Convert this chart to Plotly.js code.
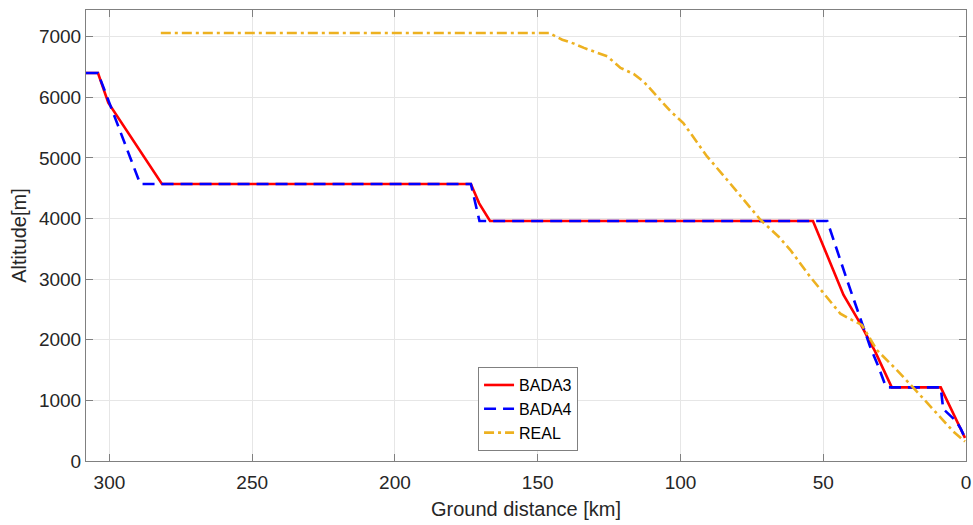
<!DOCTYPE html>
<html>
<head>
<meta charset="utf-8">
<script src="https://cdn.plot.ly/plotly-3.0.1.min.js"></script>
<style>html,body{margin:0;padding:0;background:#fff;}#chart{width:973px;height:525px;}</style>
</head>
<body>
<div id="chart"></div>
<script>
// Ground distance [km] / Altitude [m]
var bada3X = [308.2, 304.0, 300.4, 281.6, 173.4, 170.5, 166.7, 53.6, 42.9, 37.1, 31.8, 26.0, 8.85, 0.35];
var bada3Y = [6400, 6400, 5910, 4570, 4570, 4250, 3960, 3960, 2740, 2275, 1805, 1215, 1215, 380];

var bada4X = [308.2, 304.0, 289.2, 173.4, 170.4, 48.6, 41.7, 36.4, 33.6, 30.7, 28.3, 27.7, 8.85, 8.0, 3.5, 1.8, 0.35];
var bada4Y = [6400, 6400, 4570, 4570, 3960, 3960, 2990, 2280, 1890, 1560, 1255, 1215, 1215, 860, 660, 530, 380];

var realX = [282.0, 146.0, 141.4, 137.3, 133.8, 129.7, 125.6, 121.0, 116.4, 112.9, 108.2, 103.5, 99.0, 95.4, 90.7, 83.7, 77.9, 72.0, 65.6, 61.5, 54.6, 48.7, 44.0, 40.5, 36.5, 31.2, 24.2, 17.2, 10.2, 4.4, 0.35];
var realY = [7060, 7060, 6950, 6885, 6815, 6750, 6675, 6485, 6385, 6260, 6015, 5770, 5575, 5330, 5025, 4640, 4310, 3980, 3700, 3480, 3040, 2710, 2430, 2340, 2245, 1830, 1500, 1145, 790, 485, 320];

var seriesNames = ["BADA3", "BADA4", "REAL"];
var xTicks = [0, 50, 100, 150, 200, 250, 300];
var yTicks = [0, 1000, 2000, 3000, 4000, 5000, 6000, 7000];

var fontFam = "Liberation Sans, Arial, Helvetica, sans-serif";
var traces = [
  {x: bada3X, y: bada3Y, name: seriesNames[0], mode: "lines", line: {color: "#ff0000", width: 2.6}},
  {x: bada4X, y: bada4Y, name: seriesNames[1], mode: "lines", line: {color: "#0000ff", width: 2.6, dash: "12px,7px"}},
  {x: realX, y: realY, name: seriesNames[2], mode: "lines", line: {color: "#EDB120", width: 2.6, dash: "10px,4px,3px,4px"}}
];

var axisCommon = {
  showline: true, linecolor: "#808080", linewidth: 1, mirror: "ticks",
  ticks: "inside", ticklen: 7, tickcolor: "#808080", tickwidth: 1,
  showgrid: true, gridcolor: "#e6e6e6", gridwidth: 1, zeroline: false,
  tickfont: {family: fontFam, size: 19, color: "#262626"}
};

var layout = {
  width: 973, height: 525,
  margin: {l: 86, r: 7, t: 10, b: 64},
  paper_bgcolor: "#ffffff", plot_bgcolor: "#ffffff",
  showlegend: true,
  xaxis: Object.assign({}, axisCommon, {
    range: [308.2, 0], tickvals: xTicks, ticktext: xTicks.map(String),
    ticklabelstandoff: 4,
    title: {text: "Ground distance [km]", font: {family: fontFam, size: 20, color: "#262626"}, standoff: 10}
  }),
  yaxis: Object.assign({}, axisCommon, {
    range: [0, 7440], tickvals: yTicks, ticktext: yTicks.map(String),
    title: {text: "Altitude[m]", font: {family: fontFam, size: 20, color: "#262626"}, standoff: 6}
  }),
  legend: {
    x: 0.4455, y: 0.022, xanchor: "left", yanchor: "bottom",
    bgcolor: "#ffffff", bordercolor: "#808080", borderwidth: 1,
    font: {family: fontFam, size: 16, color: "#000000"},
    itemwidth: 30, tracegroupgap: 0
  }
};

Plotly.newPlot("chart", traces, layout, {displayModeBar: false, staticPlot: true});
</script>
</body>
</html>
